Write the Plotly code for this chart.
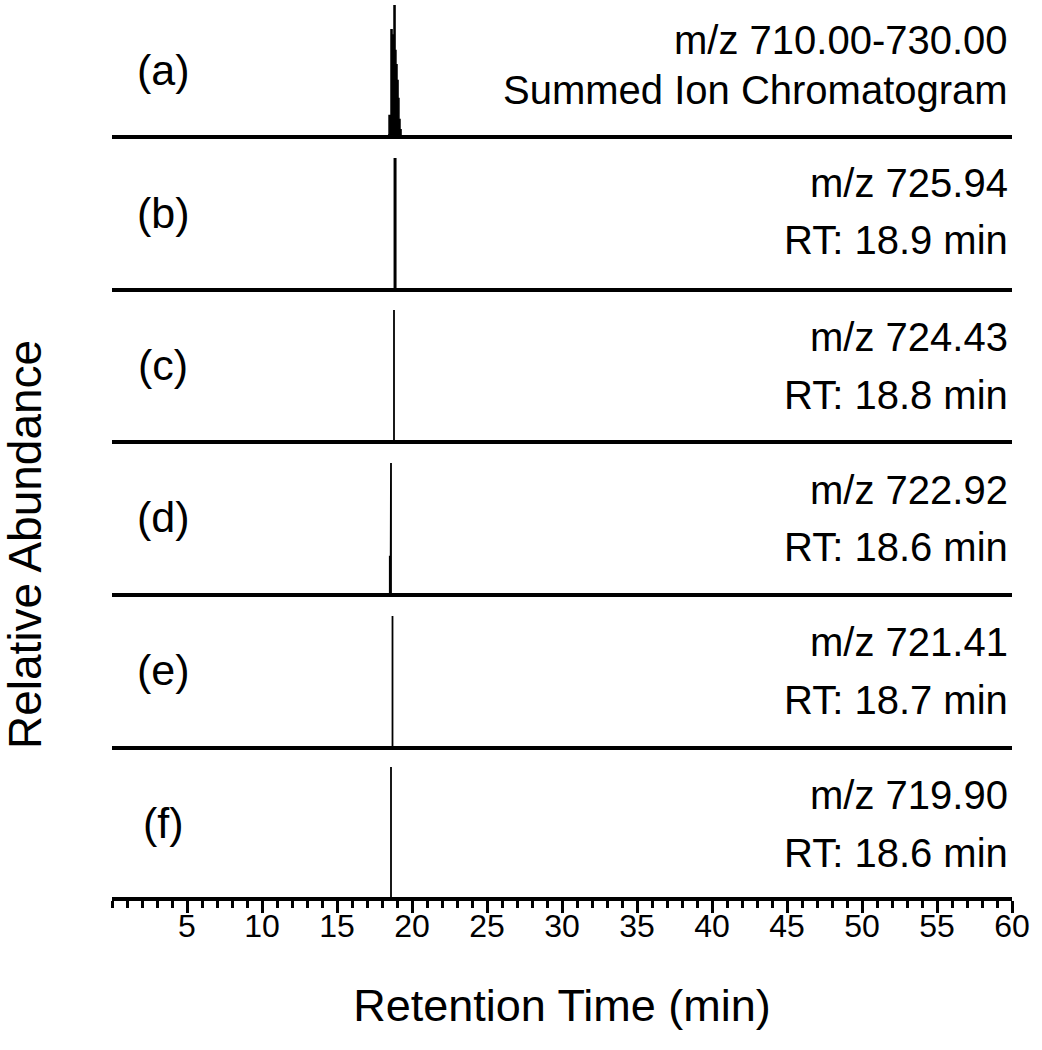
import plotly.graph_objects as go

W, H = 1042, 1050

# ---- data ----
panel_letters = ["(a)", "(b)", "(c)", "(d)", "(e)", "(f)"]
mz_labels = ["m/z 710.00-730.00", "m/z 725.94", "m/z 724.43", "m/z 722.92", "m/z 721.41", "m/z 719.90"]
rt_labels = ["Summed Ion Chromatogram", "RT: 18.9 min", "RT: 18.8 min", "RT: 18.6 min", "RT: 18.7 min", "RT: 18.6 min"]

a_rt = [18.40, 18.47, 18.53, 18.60, 18.67, 18.73, 18.80, 18.87, 18.93, 19.00, 19.07, 19.13, 19.20, 19.27]
a_int = [0.0, 0.15, 0.15, 0.81, 0.77, 0.73, 1.0, 0.65, 0.54, 0.42, 0.28, 0.12, 0.04, 0.0]
b_rt = [18.87, 18.87]
b_int = [0.0, 1.0]
c_rt = [18.8, 18.8]
c_int = [0.0, 1.0]
d_rt = [18.52, 18.52, 18.58, 18.58, 18.6, 18.6]
d_int = [0.0, 0.28, 0.28, 0.28, 1.0, 0.0]
e_rt = [18.7, 18.7]
e_int = [0.0, 1.0]
f_rt = [18.6, 18.6]
f_int = [0.0, 1.0]

x_tickvals = [5, 10, 15, 20, 25, 30, 35, 40, 45, 50, 55, 60]

series = [(a_rt, a_int), (b_rt, b_int), (c_rt, c_int), (d_rt, d_int), (e_rt, e_int), (f_rt, f_int)]
line_widths = [1.5, 3, 1.8, 1.8, 1.8, 1.8]

# ---- layout geometry (pixels) ----
baselines = [135, 288, 440, 593, 746, 897]
peak_h = 130
x0_px, x1_px = 112, 1012
letter_y = [70, 213, 365, 517, 670, 823]
line1_y = [40, 183, 337, 490, 642, 795]
line2_y = [90, 240, 395, 547, 700, 853]

FONT = "Liberation Sans, Arial, sans-serif"

fig = go.Figure()
layout = dict(
    width=W, height=H,
    margin=dict(l=0, r=0, t=0, b=0, autoexpand=False),
    paper_bgcolor="white", plot_bgcolor="white",
    showlegend=False,
    font=dict(family=FONT, color="black"),
)

annotations = []
for i, (xs, ys) in enumerate(series):
    n = i + 1
    xa = "x" if n == 1 else f"x{n}"
    ya = "y" if n == 1 else f"y{n}"
    fig.add_trace(go.Scatter(
        x=xs, y=ys, mode="lines", xaxis=xa, yaxis=ya,
        line=dict(color="black", width=line_widths[i], shape="hv" if i == 0 else "linear"),
        fill="tozeroy" if i == 0 else None, fillcolor="black",
        hoverinfo="skip",
    ))
    xk = "xaxis" if n == 1 else f"xaxis{n}"
    yk = "yaxis" if n == 1 else f"yaxis{n}"
    yb = baselines[i]
    last = (i == len(series) - 1)
    xaxis = dict(
        domain=[x0_px / W, x1_px / W], range=[0, 60], anchor=ya,
        showline=True, linecolor="black", linewidth=4,
        showgrid=False, zeroline=False,
        showticklabels=last,
    )
    if last:
        xaxis.update(
            tickmode="array", tickvals=x_tickvals, ticks="outside",
            ticklen=12, tickwidth=3, tickcolor="black",
            ticklabelstandoff=-14,
            tickfont=dict(size=32, family=FONT, color="black"),
            minor=dict(dtick=1, tick0=0, ticks="outside", ticklen=7, tickwidth=3, tickcolor="black"),
            title=dict(text="Retention Time (min)", font=dict(size=45, family=FONT, color="black"), standoff=47),
        )
    else:
        xaxis.update(ticks="")
    layout[xk] = xaxis
    layout[yk] = dict(
        domain=[1 - yb / H, 1 - (yb - peak_h) / H], range=[0, 1], anchor=xa,
        visible=False, showgrid=False, zeroline=False,
    )
    annotations.append(dict(
        text=panel_letters[i], xref="paper", yref="paper",
        x=163 / W, y=1 - letter_y[i] / H, xanchor="center", yanchor="middle",
        showarrow=False, font=dict(size=43, family=FONT, color="black"),
    ))
    annotations.append(dict(
        text=mz_labels[i], xref="paper", yref="paper",
        x=1010 / W, y=1 - line1_y[i] / H, xanchor="right", yanchor="middle",
        showarrow=False, font=dict(size=40, family=FONT, color="black"),
    ))
    annotations.append(dict(
        text=rt_labels[i], xref="paper", yref="paper",
        x=1010 / W, y=1 - line2_y[i] / H, xanchor="right", yanchor="middle",
        showarrow=False, font=dict(size=40, family=FONT, color="black"),
    ))

annotations.append(dict(
    text="Relative Abundance", xref="paper", yref="paper",
    x=25 / W, y=1 - 545 / H, xanchor="center", yanchor="middle", textangle=-90,
    showarrow=False, font=dict(size=46, family=FONT, color="black"),
))
layout["annotations"] = annotations

fig.update_layout(**layout)
fig.write_html(
    "out.html",
    config={"responsive": False, "displayModeBar": False},
    post_script="document.body.style.margin='0';document.body.style.padding='0';document.body.style.overflow='hidden';",
)
